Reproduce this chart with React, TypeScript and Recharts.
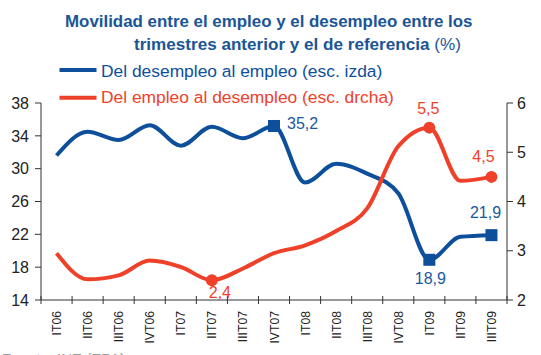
import React from 'react';
import { LineChart, Line, XAxis, YAxis, LabelList } from 'recharts';

const quarters = [
  'IT06', 'IIT06', 'IIIT06', 'IVT06', 'IT07', 'IIT07', 'IIIT07', 'IVT07',
  'IT08', 'IIT08', 'IIIT08', 'IVT08', 'IT09', 'IIT09', 'IIIT09',
];
// left scale (%)
const desempleoAEmpleo = [31.6, 34.5, 33.5, 35.3, 32.8, 35.1, 33.7, 35.2, 28.3, 30.6, 29.4, 27.0, 18.9, 21.7, 21.9];
// right scale (%)
const empleoADesempleo = [2.95, 2.42, 2.5, 2.8, 2.67, 2.4, 2.64, 2.95, 3.11, 3.4, 3.86, 5.12, 5.5, 4.42, 4.5];
const leftTicks = [14, 18, 22, 26, 30, 34, 38];
const rightTicks = [2, 3, 4, 5, 6];
const blueMarked = [7, 12, 14];
const redMarked = [5, 12, 14];

const BLUE = '#0e4f9b';
const RED = '#ef4129';
const AXIS = '#333';
const FONT = '"Liberation Sans", Arial, Helvetica, sans-serif';

const data = quarters.map((q, i) => ({
  q,
  pos: i + 0.5,
  blue: desempleoAEmpleo[i],
  red: empleoADesempleo[i],
}));

// boundary ticks (integers) + label ticks (band centres)
const xTicks = [...quarters.flatMap((_, i) => [i, i + 0.5]), quarters.length];

// label offsets relative to the marker: [dx, dy, anchor]
const blueLabelPos: Record<number, [number, number, string]> = {
  7: [13, 3, 'start'],
  12: [1, 24, 'middle'],
  14: [-6, -17, 'middle'],
};
const redLabelPos: Record<number, [number, number, string]> = {
  5: [8, 18, 'middle'],
  12: [-1, -14, 'middle'],
  14: [-8, -15, 'middle'],
};

const fmt = (v: number) => v.toFixed(1).replace('.', ',');

function XTick(props: any) {
  const { x, y, payload } = props;
  const v = payload.value as number;
  if (Number.isInteger(v)) {
    return <line x1={x} x2={x} y1={y - 4} y2={y + 4} stroke={AXIS} strokeWidth={1} />;
  }
  return (
    <text
      transform={`translate(${x + 4.5},${y + 11}) rotate(-90)`}
      textAnchor="end"
      fontSize={12.2}
      fontFamily={FONT}
      fill="#222"
    >
      {quarters[Math.floor(v)]}
    </text>
  );
}

const blueDot = (p: any) =>
  blueMarked.includes(p.index) ? (
    <rect key={`b${p.index}`} x={p.cx - 6} y={p.cy - 6} width={12} height={12} fill={BLUE} />
  ) : (
    <g key={`b${p.index}`} />
  );

const redDot = (p: any) =>
  redMarked.includes(p.index) ? (
    <circle key={`r${p.index}`} cx={p.cx} cy={p.cy} r={6} fill={RED} />
  ) : (
    <g key={`r${p.index}`} />
  );

const makeLabel = (pos: Record<number, [number, number, string]>, color: string) => (p: any) => {
  const o = pos[p.index];
  if (!o) return null;
  return (
    <text
      key={`l${p.index}`}
      x={p.x + o[0]}
      y={p.y + o[1]}
      textAnchor={o[2] as any}
      fontSize={16}
      fontFamily={FONT}
      fill={color}
    >
      {fmt(p.value)}
    </text>
  );
};

export default function App() {
  return (
    <div style={{ position: 'absolute', left: 0, top: 0, width: 541, height: 355, background: '#fff', overflow: 'hidden' }}>
      <svg width={541} height={355} style={{ position: 'absolute', left: 0, top: 0 }}>
        <text x={65} y={26.7} fontSize={16.9} fontWeight="bold" fontFamily={FONT} fill="#1b5596">
          Movilidad entre el empleo y el desempleo entre los
        </text>
        <text x={134} y={49.5} fontSize={17.1} fontFamily={FONT} fill="#1b5596">
          <tspan fontWeight="bold">trimestres anterior y el de referencia</tspan>
          <tspan> (%)</tspan>
        </text>
        <line x1={59.5} x2={96.5} y1={70} y2={70} stroke={BLUE} strokeWidth={4} />
        <text x={101} y={76.7} fontSize={17.4} fontFamily={FONT} fill={BLUE}>
          Del desempleo al empleo (esc. izda)
        </text>
        <line x1={59.5} x2={96.5} y1={97.7} y2={97.7} stroke={RED} strokeWidth={4} />
        <text x={101} y={103.3} fontSize={17.4} fontFamily={FONT} fill={RED}>
          Del empleo al desempleo (esc. drcha)
        </text>
        <text x={2} y={364} fontSize={15} fontFamily={FONT} fill="#999">
          Fuente: INE (EPA).
        </text>
      </svg>
      <div style={{ position: 'absolute', left: 0, top: 0 }}>
        <LineChart width={541} height={355} data={data} margin={{ top: 103, right: 0, bottom: 0, left: 0 }}>
          <XAxis
            dataKey="pos"
            type="number"
            domain={[0, quarters.length]}
            ticks={xTicks}
            interval={0}
            tickSize={0}
            tickMargin={0}
            tickLine={false}
            tick={<XTick />}
            height={55}
            axisLine={{ stroke: AXIS }}
          />
          <YAxis
            yAxisId="l"
            domain={[14, 38]}
            ticks={leftTicks}
            width={41}
            tickSize={6}
            tickMargin={6}
            axisLine={{ stroke: AXIS }}
            tickLine={{ stroke: AXIS }}
            tick={{ fill: '#222', fontSize: 16, fontFamily: FONT }}
          />
          <YAxis
            yAxisId="r"
            orientation="right"
            domain={[2, 6]}
            ticks={rightTicks}
            width={34}
            tickSize={6}
            tickMargin={4}
            axisLine={{ stroke: AXIS }}
            tickLine={{ stroke: AXIS }}
            tick={{ fill: '#222', fontSize: 16, fontFamily: FONT }}
          />
          <Line
            yAxisId="l"
            type="monotone"
            dataKey="blue"
            stroke={BLUE}
            strokeWidth={4}
            dot={blueDot}
            activeDot={false}
            isAnimationActive={false}
          >
            <LabelList dataKey="blue" content={makeLabel(blueLabelPos, '#1a58a0')} />
          </Line>
          <Line
            yAxisId="r"
            type="monotone"
            dataKey="red"
            stroke={RED}
            strokeWidth={4}
            dot={redDot}
            activeDot={false}
            isAnimationActive={false}
          >
            <LabelList dataKey="red" content={makeLabel(redLabelPos, RED)} />
          </Line>
        </LineChart>
      </div>
    </div>
  );
}
